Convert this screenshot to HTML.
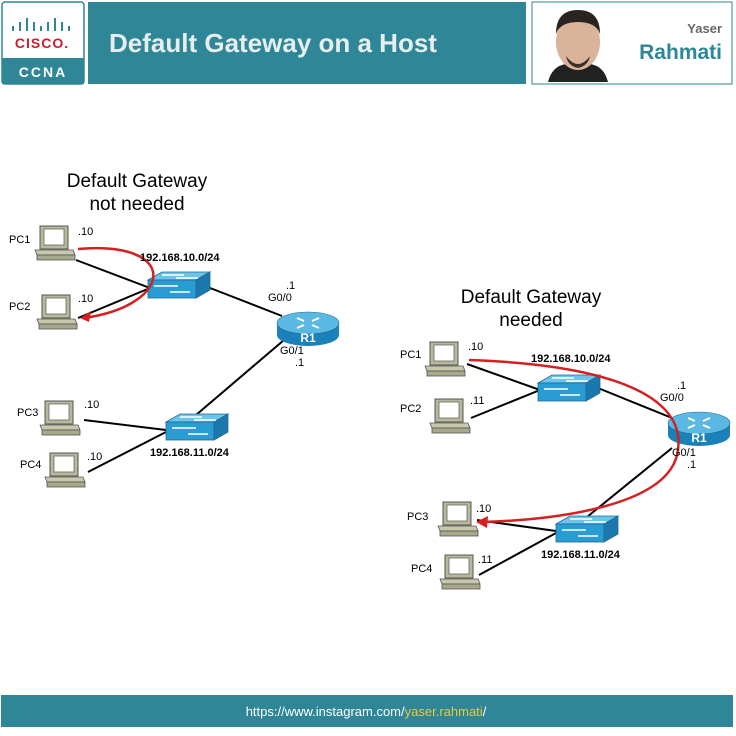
<!DOCTYPE html>
<html><head><meta charset="utf-8"><style>
body{margin:0;width:736px;height:731px;background:#fff;overflow:hidden;font-family:"Liberation Sans",sans-serif}
</style></head><body>
<svg width="736" height="731" viewBox="0 0 736 731" xmlns="http://www.w3.org/2000/svg" font-family="Liberation Sans, sans-serif">
<defs>
<g id="pc">
<rect x="5" y="0" width="28" height="23" fill="#b8b89a" stroke="#555" stroke-width="1"/>
<rect x="9" y="3" width="20" height="16" fill="#fff" stroke="#666" stroke-width="0.8"/>
<polygon points="0,24 38,24 40,29 2,29" fill="#c8c8ac" stroke="#555" stroke-width="0.8"/>
<rect x="2" y="29" width="38" height="5" fill="#a8a88a" stroke="#555" stroke-width="0.8"/>
</g>
<g id="sw">
<polygon points="0,8 14,0 62,0 48,8" fill="#6cc4ea" stroke="#1c6c96" stroke-width="0.8"/>
<rect x="0" y="8" width="48" height="18" fill="#2a9cd4" stroke="#1c6c96" stroke-width="0.8"/>
<polygon points="48,8 62,0 62,18 48,26" fill="#1a78ae" stroke="#1c6c96" stroke-width="0.8"/>
<path d="M14 3 H36 M28 6 H50 M6 14 H30 M22 20 H42" stroke="#fff" stroke-width="1.4"/>
</g>
<g id="rt">
<path d="M0 12 V24 A31 11 0 0 0 62 24 V12 Z" fill="#1a82b8"/>
<ellipse cx="31" cy="12" rx="31" ry="11" fill="#5ab8e2" stroke="#1c6c96" stroke-width="0.6"/>
<path d="M20 7 L27 10 M42 7 L35 10 M20 17 L27 14 M42 17 L35 14" stroke="#fff" stroke-width="2"/>
<text x="31" y="31" font-size="12" font-weight="bold" fill="#fff" text-anchor="middle">R1</text>
</g>
</defs>

<!-- header -->
<rect x="2" y="2" width="82" height="82" rx="3" fill="#fff" stroke="#2e8696" stroke-width="1.5"/>
<rect x="2" y="58" width="82" height="26" fill="#2e8696"/>
<g stroke="#2e8696" stroke-width="2">
<path d="M13 26v5M20 22v9M27 18v13M34 22v9M41 26v5M48 22v9M55 18v13M62 22v9M69 26v5"/>
</g>
<text x="42" y="48" font-size="14" font-weight="bold" fill="#c8202c" text-anchor="middle" letter-spacing="1">CISCO.</text>
<text x="43" y="77" font-size="14" font-weight="bold" fill="#fff" text-anchor="middle" letter-spacing="2">CCNA</text>
<rect x="88" y="2" width="438" height="82" fill="#2e8696"/>
<text x="109" y="52" font-size="26" font-weight="bold" fill="#e6eef0">Default Gateway on a Host</text>
<rect x="532" y="2" width="200" height="82" fill="#fff" stroke="#2e8696" stroke-width="1"/>
<path d="M548 82 Q552 66 566 64 L590 64 Q604 66 608 82 Z" fill="#222"/>
<ellipse cx="578" cy="42" rx="22" ry="28" fill="#d9b39a"/>
<path d="M556 34 Q556 10 578 10 Q600 10 600 34 Q596 22 578 22 Q560 22 556 34 Z" fill="#2a2420"/>
<path d="M566 56 Q578 72 590 56 Q588 66 578 68 Q568 66 566 56 Z" fill="#3a302a"/>
<text x="722" y="33" font-size="13" font-weight="bold" fill="#666" text-anchor="end">Yaser</text>
<text x="722" y="59" font-size="21" font-weight="bold" fill="#2e8696" text-anchor="end">Rahmati</text>

<!-- left diagram -->
<text x="137" y="187" font-size="19" text-anchor="middle">Default Gateway</text>
<text x="137" y="210" font-size="19" text-anchor="middle">not needed</text>
<g stroke="#000" stroke-width="2">
<line x1="76" y1="260" x2="150" y2="288"/>
<line x1="78" y1="318" x2="150" y2="288"/>
<line x1="205" y1="286" x2="282" y2="316"/>
<line x1="284" y1="340" x2="196" y2="415"/>
<line x1="84" y1="420" x2="166" y2="430"/>
<line x1="88" y1="472" x2="166" y2="432"/>
</g>
<use href="#pc" x="35" y="226"/>
<use href="#pc" x="37" y="295"/>
<use href="#pc" x="40" y="401"/>
<use href="#pc" x="45" y="453"/>
<use href="#sw" x="148" y="272"/>
<use href="#sw" x="166" y="414"/>
<use href="#rt" x="277" y="311"/>
<path d="M78 249 C180 240 175 305 84 318" fill="none" stroke="#d42020" stroke-width="2.5"/>
<path d="M80 318 L91 311 L89 322 Z" fill="#d42020"/>
<g font-size="11">
<text x="9" y="243">PC1</text><text x="78" y="235">.10</text>
<text x="9" y="310">PC2</text><text x="78" y="302">.10</text>
<text x="17" y="416">PC3</text><text x="84" y="408">.10</text>
<text x="20" y="468">PC4</text><text x="87" y="460">.10</text>
<text x="286" y="289">.1</text><text x="268" y="301">G0/0</text>
<text x="280" y="354">G0/1</text><text x="295" y="366">.1</text>
</g>
<g font-size="11" font-weight="bold">
<text x="140" y="261">192.168.10.0/24</text>
<text x="150" y="456">192.168.11.0/24</text>
</g>

<!-- right diagram -->
<text x="531" y="303" font-size="19" text-anchor="middle">Default Gateway</text>
<text x="531" y="326" font-size="19" text-anchor="middle">needed</text>
<g stroke="#000" stroke-width="2">
<line x1="467" y1="364" x2="540" y2="390"/>
<line x1="471" y1="418" x2="540" y2="390"/>
<line x1="598" y1="388" x2="672" y2="418"/>
<line x1="672" y1="448" x2="587" y2="517"/>
<line x1="477" y1="520" x2="556" y2="531"/>
<line x1="479" y1="575" x2="556" y2="533"/>
</g>
<use href="#pc" x="425" y="342"/>
<use href="#pc" x="430" y="399"/>
<use href="#pc" x="438" y="502"/>
<use href="#pc" x="440" y="555"/>
<use href="#sw" x="538" y="375"/>
<use href="#sw" x="556" y="516"/>
<use href="#rt" x="668" y="411"/>
<path d="M469 360 C620 365 690 400 677 455 C665 505 560 520 480 522" fill="none" stroke="#d42020" stroke-width="2.5"/>
<path d="M476 522 L488 516 L487 528 Z" fill="#d42020"/>
<g font-size="11">
<text x="400" y="358">PC1</text><text x="468" y="350">.10</text>
<text x="400" y="412">PC2</text><text x="470" y="404">.11</text>
<text x="407" y="520">PC3</text><text x="476" y="512">.10</text>
<text x="411" y="572">PC4</text><text x="478" y="563">.11</text>
<text x="677" y="389">.1</text><text x="660" y="401">G0/0</text>
<text x="672" y="456">G0/1</text><text x="687" y="468">.1</text>
</g>
<g font-size="11" font-weight="bold">
<text x="531" y="362">192.168.10.0/24</text>
<text x="541" y="558">192.168.11.0/24</text>
</g>

<!-- footer -->
<rect x="1" y="695" width="732" height="32" fill="#2e8696"/>
<text x="366" y="716" font-size="13" fill="#fff" text-anchor="middle">https://www.instagram.com/<tspan fill="#e8c84a">yaser.rahmati</tspan>/</text>
</svg>
</body></html>
